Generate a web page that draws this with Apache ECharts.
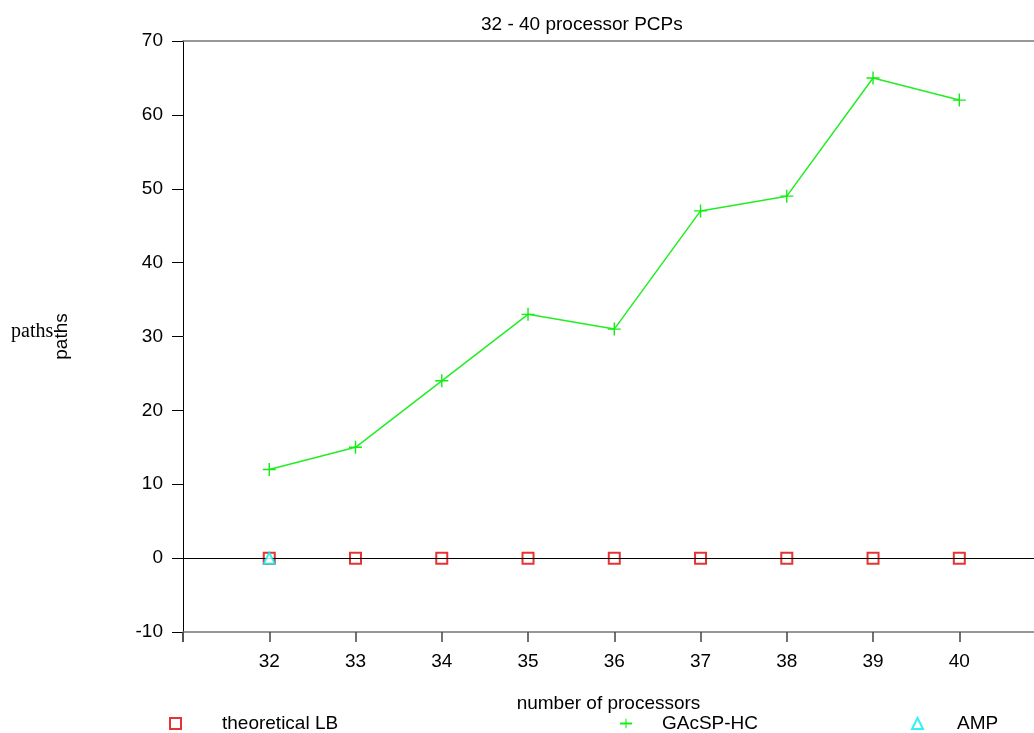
<!DOCTYPE html>
<html>
<head>
<meta charset="utf-8">
<script src="https://cdn.jsdelivr.net/npm/echarts@6/dist/echarts.min.js"></script>
<style>html,body{margin:0;padding:0;background:#fff;}#c{width:1034px;height:733px;}</style>
</head>
<body>
<div id="c"></div>
<script>
const processors = [32, 33, 34, 35, 36, 37, 38, 39, 40];
const theoreticalLB = [0, 0, 0, 0, 0, 0, 0, 0, 0];
const gacspHC = [12, 15, 24, 33, 31, 47, 49, 65, 62];
const ampX = [32];
const ampY = [0];
const xTicks = [32, 33, 34, 35, 36, 37, 38, 39, 40];

const FONT = 'Liberation Sans, Arial, sans-serif';
const plusPath = 'path://M0,5.35H12V6.65H0Z M5.35,0H6.65V12H5.35Z';

const chart = echarts.init(document.getElementById('c'), null, {renderer: 'canvas'});
chart.setOption({
  animation: false,
  backgroundColor: '#fff',
  title: {
    text: '32 - 40 processor PCPs',
    left: 476, top: 10,
    textStyle: {fontFamily: FONT, fontSize: 19, fontWeight: 'normal', color: '#000'}
  },
  grid: {left: 183, top: 41, width: 851, height: 591, outerBoundsMode: 'none'},
  xAxis: [{
    type: 'value', min: 31, max: 40.866,
    interval: 1,
    name: 'number of processors', nameLocation: 'middle', nameGap: 62,
    nameTextStyle: {fontFamily: FONT, fontSize: 19, color: '#000'},
    axisLine: {show: true, onZero: false, lineStyle: {color: '#777', width: 1.5}},
    axisTick: {show: true, inside: false, length: 10, lineStyle: {color: '#444', width: 1.5}},
    axisLabel: {fontFamily: FONT, fontSize: 19, color: '#000', margin: 20,
      showMaxLabel: false,
      formatter: v => xTicks.includes(v) ? String(v) : ''},
    splitLine: {show: false}
  }, {
    type: 'value', min: 31, max: 40.866, position: 'top',
    axisLine: {show: true, onZero: false, lineStyle: {color: '#777', width: 1.5}},
    axisTick: {show: false}, axisLabel: {show: false}, splitLine: {show: false}
  }],
  yAxis: {
    type: 'value', min: -10, max: 70, interval: 10,
    name: 'paths', nameLocation: 'middle', nameGap: 112, nameRotate: 90,
    nameTextStyle: {fontFamily: FONT, fontSize: 19, color: '#000'},
    axisLine: {show: true, onZero: false, lineStyle: {color: '#000', width: 1}},
    axisTick: {show: true, length: 11, lineStyle: {color: '#000', width: 1}},
    axisLabel: {fontFamily: FONT, fontSize: 19, color: '#000', margin: 20},
    splitLine: {show: false}
  },
  graphic: [{
    type: 'text', left: 11, top: 322,
    style: {text: 'paths', font: '20px "Liberation Serif", "Times New Roman", serif', fill: '#000'}
  }, {
    type: 'line', shape: {x1: 183, y1: 632, x2: 183, y2: 642},
    style: {stroke: '#000', lineWidth: 1}
  }],
  legend: [{
    left: 164, top: 709, data: ['theoretical LB'], itemWidth: 11, itemHeight: 11,
    textStyle: {fontFamily: FONT, fontSize: 19, color: '#000', padding: [0, 0, 0, 36]}
  }, {
    left: 614, top: 709, data: ['GAcSP-HC'], itemWidth: 12, itemHeight: 12,
    textStyle: {fontFamily: FONT, fontSize: 19, color: '#000', padding: [0, 0, 0, 25]}
  }, {
    left: 906, top: 709, data: ['AMP'], itemWidth: 11, itemHeight: 11,
    textStyle: {fontFamily: FONT, fontSize: 19, color: '#000', padding: [0, 0, 0, 29]}
  }],
  series: [{
    name: 'theoretical LB', type: 'scatter',
    data: processors.map((p, i) => [p, theoreticalLB[i]]),
    symbol: 'emptyRect', symbolSize: 11,
    itemStyle: {color: '#e00000', borderColor: '#e00000', borderWidth: 1.5},
    markLine: {
      silent: true, symbol: 'none', label: {show: false},
      lineStyle: {color: '#000', type: 'solid', width: 1.2},
      data: [{yAxis: 0}]
    },
    z: 3
  }, {
    name: 'GAcSP-HC', type: 'line',
    data: processors.map((p, i) => [p, gacspHC[i]]),
    symbol: plusPath, symbolSize: 13, showAllSymbol: true,
    lineStyle: {color: '#22ee22', width: 1.5},
    itemStyle: {color: '#11ee11'},
    z: 4
  }, {
    name: 'AMP', type: 'scatter',
    data: ampX.map((x, i) => [x, ampY[i]]),
    symbol: 'emptyTriangle', symbolSize: 11,
    itemStyle: {color: '#00eeee', borderColor: '#00eeee', borderWidth: 1.5},
    z: 5
  }]
});
</script>
</body>
</html>
